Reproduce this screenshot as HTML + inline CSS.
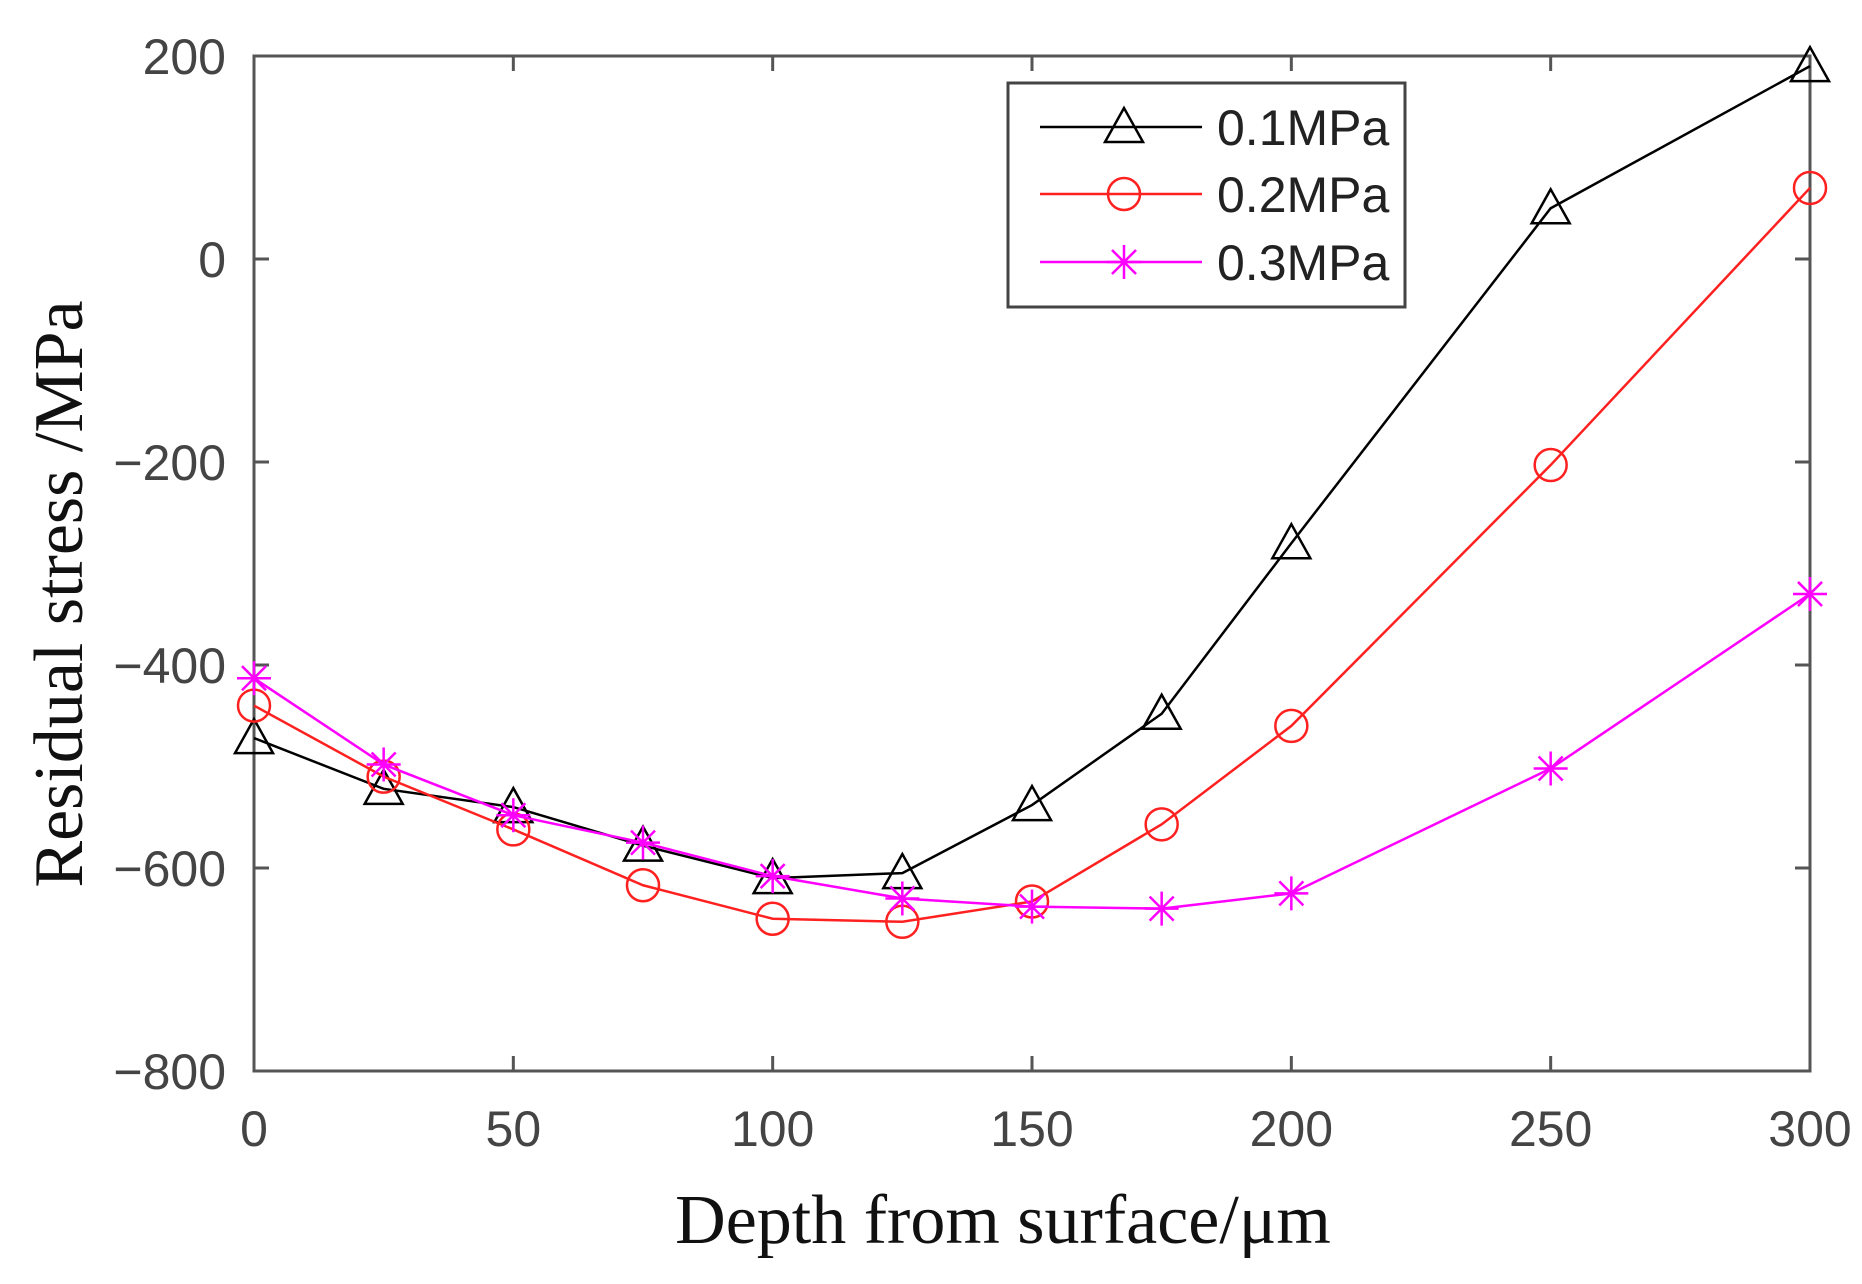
<!DOCTYPE html>
<html><head><meta charset="utf-8"><style>html,body{margin:0;padding:0;background:#fff}svg{display:block}</style></head>
<body>
<svg id="s" width="1862" height="1284" viewBox="0 0 1862 1284" xmlns="http://www.w3.org/2000/svg">
<rect width="1862" height="1284" fill="#fff"/>
<g id="g"></g>
<text x="1003" y="1243" font-family="Liberation Serif, serif" font-size="70" text-anchor="middle" fill="#111">Depth from surface/μm</text>
<text transform="translate(82,594) rotate(-90)" font-family="Liberation Serif, serif" font-size="70" text-anchor="middle" fill="#111">Residual stress /MPa</text>
</svg>
<script>
var L=254,R=1810,T=56,B=1071;
function X(d){return L+d*(R-L)/300}
function Y(v){return T+(200-v)*(B-T)/1000}
var h='';
var ax='#555';
h+='<rect x="'+L+'" y="'+T+'" width="'+(R-L)+'" height="'+(B-T)+'" fill="none" stroke="'+ax+'" stroke-width="3"/>';
for(var v=-800;v<=200;v+=200){var y=Y(v);
h+='<line x1="'+L+'" y1="'+y+'" x2="'+(L+15)+'" y2="'+y+'" stroke="'+ax+'" stroke-width="3"/>';
h+='<line x1="'+R+'" y1="'+y+'" x2="'+(R-15)+'" y2="'+y+'" stroke="'+ax+'" stroke-width="3"/>';
h+='<text x="226" y="'+(y+18)+'" font-family="Liberation Sans, sans-serif" font-size="50" text-anchor="end" fill="#444">'+(v<0?'\u2212'+(-v):v)+'</text>';}
for(var d=0;d<=300;d+=50){var x=X(d);
h+='<line x1="'+x+'" y1="'+B+'" x2="'+x+'" y2="'+(B-15)+'" stroke="'+ax+'" stroke-width="3"/>';
h+='<line x1="'+x+'" y1="'+T+'" x2="'+x+'" y2="'+(T+15)+'" stroke="'+ax+'" stroke-width="3"/>';
h+='<text x="'+x+'" y="'+1146+'" font-family="Liberation Sans, sans-serif" font-size="50" text-anchor="middle" fill="#444">'+d+'</text>';}
var xs=[0,25,50,75,100,125,150,175,200,250,300];
var S=[
{c:'#000',m:'t',d:[-472,-522,-540,-578,-610,-605,-538,-448,-280,50,190]},
{c:'#ff2020',m:'o',d:[-440,-510,-562,-617,-650,-653,-633,-557,-460,-203,70]},
{c:'#ff00ff',m:'s',d:[-413,-498,-548,-575,-608,-630,-638,-640,-625,-502,-330]}];
function mk(m,x,y,c){
if(m=='t')return '<polygon points="'+x+','+(y-19)+' '+(x-19)+','+(y+15)+' '+(x+19)+','+(y+15)+'" fill="none" stroke="'+c+'" stroke-width="2.5"/>';
if(m=='o')return '<circle cx="'+x+'" cy="'+y+'" r="16" fill="none" stroke="'+c+'" stroke-width="2.5"/>';
var r=17,s='';for(var a=0;a<4;a++){var t=a*Math.PI/4;s+='<line x1="'+(x-r*Math.cos(t))+'" y1="'+(y-r*Math.sin(t))+'" x2="'+(x+r*Math.cos(t))+'" y2="'+(y+r*Math.sin(t))+'" stroke="'+c+'" stroke-width="2.5"/>';}return s;}
S.forEach(function(s){var p=xs.map(function(d,i){return X(d)+','+Y(s.d[i])}).join(' ');
h+='<polyline points="'+p+'" fill="none" stroke="'+s.c+'" stroke-width="2.5"/>';
xs.forEach(function(d,i){h+=mk(s.m,X(d),Y(s.d[i]),s.c)});});
h+='<rect x="1008" y="83" width="397" height="224" fill="#fff" stroke="#444" stroke-width="3"/>';
var ly=[127,194,262],lab=['0.1MPa','0.2MPa','0.3MPa'];
S.forEach(function(s,i){h+='<line x1="1040" y1="'+ly[i]+'" x2="1202" y2="'+ly[i]+'" stroke="'+s.c+'" stroke-width="2.5"/>'+mk(s.m,1124,ly[i],s.c);
h+='<text x="1217" y="'+(ly[i]+18)+'" font-family="Liberation Sans, sans-serif" font-size="50" fill="#222">'+lab[i]+'</text>';});
document.getElementById('g').innerHTML=h;
</script>
</body></html>
